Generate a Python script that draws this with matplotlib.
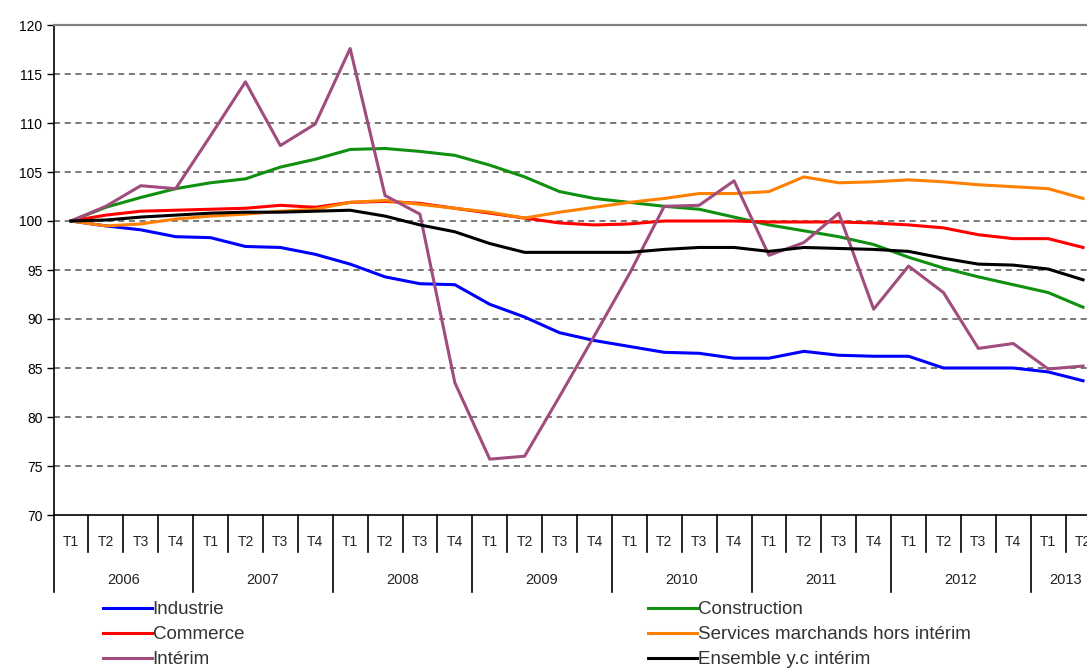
import matplotlib
matplotlib.use("Agg")
import matplotlib.pyplot as plt
import matplotlib.transforms as mtransforms
import numpy as np

plt.rcParams['font.family'] = ['Liberation Sans', 'DejaVu Sans']

# --- Données (indices trimestriels, base 100 au T1 2006)
annees = ["2006", "2007", "2008", "2009", "2010", "2011", "2012", "2013"]
trimestres = ["T1", "T2", "T3", "T4"] * 7 + ["T1", "T2"]

industrie = [100.0, 99.5, 99.1, 98.4, 98.3, 97.4, 97.3, 96.6, 95.6, 94.3,
             93.6, 93.5, 91.5, 90.2, 88.6, 87.8, 87.2, 86.6, 86.5, 86.0,
             86.0, 86.7, 86.3, 86.2, 86.2, 85.0, 85.0, 85.0, 84.6, 83.7]
construction = [100.0, 101.4, 102.4, 103.3, 103.9, 104.3, 105.5, 106.3, 107.3, 107.4,
                107.1, 106.7, 105.7, 104.5, 103.0, 102.3, 101.9, 101.5, 101.2, 100.4,
                99.6, 99.0, 98.4, 97.6, 96.3, 95.2, 94.3, 93.5, 92.7, 91.2]
commerce = [100.0, 100.6, 101.0, 101.1, 101.2, 101.3, 101.6, 101.4, 101.9, 102.0,
            101.8, 101.3, 100.8, 100.3, 99.8, 99.6, 99.7, 100.0, 100.0, 100.0,
            99.9, 99.9, 99.9, 99.8, 99.6, 99.3, 98.6, 98.2, 98.2, 97.3]
services = [100.0, 99.5, 99.7, 100.2, 100.5, 100.7, 101.0, 101.2, 101.9, 102.1,
            101.7, 101.3, 100.9, 100.3, 100.9, 101.4, 101.9, 102.3, 102.8, 102.8,
            103.0, 104.5, 103.9, 104.0, 104.2, 104.0, 103.7, 103.5, 103.3, 102.3]
interim = [100.0, 101.5, 103.6, 103.3, 108.7, 114.2, 107.7, 109.9, 117.6, 102.6,
           100.7, 83.5, 75.7, 76.0, 82.1, 88.3, 94.6, 101.5, 101.6, 104.1,
           96.5, 97.8, 100.8, 91.0, 95.4, 92.7, 87.0, 87.5, 84.9, 85.2]
ensemble = [100.0, 100.1, 100.4, 100.6, 100.8, 100.9, 100.9, 101.0, 101.1, 100.5,
            99.6, 98.9, 97.7, 96.8, 96.8, 96.8, 96.8, 97.1, 97.3, 97.3,
            96.9, 97.3, 97.2, 97.1, 96.9, 96.2, 95.6, 95.5, 95.1, 94.0]

series = [
    ("Industrie", industrie, "#0000FF"),
    ("Construction", construction, "#109010"),
    ("Commerce", commerce, "#FF0000"),
    ("Services marchands hors intérim", services, "#FF8000"),
    ("Intérim", interim, "#A04C7C"),
    ("Ensemble y.c intérim", ensemble, "#000000"),
]

W, H = 1087, 670
fig = plt.figure(figsize=(W / 100, H / 100), dpi=100)
# l'axe déborde à droite : le T2 2013 est coupé comme sur l'original
ax = fig.add_axes([53.5 / W, 1 - 515 / H, 30 * 34.9 / W, 490 / H])

n = len(trimestres)
x = np.arange(n) + 0.5
lignes = {}
for nom, vals, col in series:
    lignes[nom], = ax.plot(x, vals, color=col, lw=2.2, label=nom)

ax.set_xlim(0, n)
ax.set_ylim(70, 120)
ax.set_yticks(np.arange(70, 121, 5))
ax.tick_params(axis='y', direction='out', length=5, width=1, labelsize=10, pad=3)
ax.set_xticks([])

for v in range(75, 120, 5):
    ax.axhline(v, color="#555555", lw=1.1, ls=(0, (4, 3)), zorder=0)

ax.spines['right'].set_visible(False)
ax.spines['top'].set_color("#808080")
ax.spines['top'].set_linewidth(1.6)
ax.spines['left'].set_linewidth(1.2)
ax.spines['bottom'].set_linewidth(1.2)

# --- Axe des catégories à deux niveaux (trimestres / années)
tr = mtransforms.blended_transform_factory(ax.transData, ax.transAxes)
for k in range(n + 1):
    bas = -0.157 if k % 4 == 0 else -0.0755
    ax.plot([k, k], [0, bas], transform=tr, color="black", lw=1.2, clip_on=False)
for i, t in enumerate(trimestres):
    ax.text(i + 0.5, -0.0545, t, transform=tr, ha="center", va="center",
            fontsize=10, color="#222222")
for j, a in enumerate(annees):
    debut = 4 * j
    fin = min(4 * j + 4, n)
    ax.text((debut + fin) / 2, -0.133, a, transform=tr, ha="center", va="center",
            fontsize=10.5, color="#222222")

# --- Légende en deux colonnes
ordre_g = ["Industrie", "Commerce", "Intérim"]
ordre_d = ["Construction", "Services marchands hors intérim", "Ensemble y.c intérim"]
kw = dict(frameon=False, fontsize=13.5, handlelength=2.6, handletextpad=0.05,
          labelspacing=0.42, borderpad=0, borderaxespad=0, loc="upper left")
leg1 = fig.legend([lignes[k] for k in ordre_g], ordre_g,
                  bbox_to_anchor=(103 / W, 1 - 601 / H), **kw)
leg2 = fig.legend([lignes[k] for k in ordre_d], ordre_d,
                  bbox_to_anchor=(648 / W, 1 - 601 / H), **kw)
for leg in (leg1, leg2):
    for t in leg.get_texts():
        t.set_color("#333333")

fig.savefig("out.png", dpi=100)
